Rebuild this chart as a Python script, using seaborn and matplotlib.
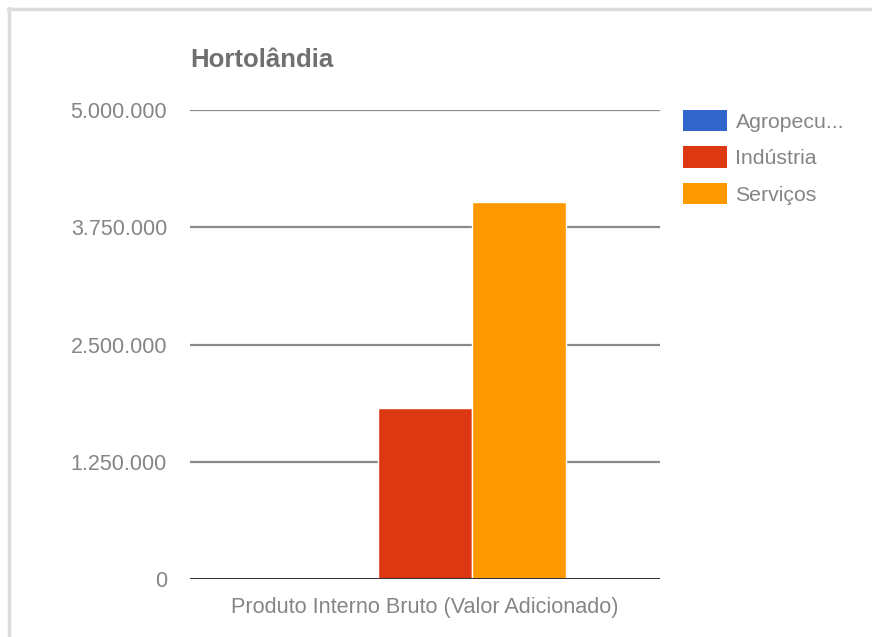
import matplotlib
matplotlib.use("Agg")
import matplotlib.pyplot as plt
from matplotlib.lines import Line2D
import seaborn as sns
import pandas as pd

# ---- data ----
title = "Hortolândia"
group_label = "Produto Interno Bruto (Valor Adicionado)"
sectors = ["Agropecuária", "Indústria", "Serviços"]
legend_labels = ["Agropecu...", "Indústria", "Serviços"]
values = [3000, 1822000, 4023000]
colors = ["#3366CC", "#DC3912", "#FF9900"]
y_ticks = [0, 1250000, 2500000, 3750000, 5000000]
y_tick_labels = ["0", "1.250.000", "2.500.000", "3.750.000", "5.000.000"]

df = pd.DataFrame({"grupo": [group_label] * len(sectors),
                   "setor": sectors,
                   "valor": values})

sns.set_theme(style="white")
plt.rcParams["font.family"] = ["Liberation Sans", "DejaVu Sans"]

fig = plt.figure(figsize=(8.72, 6.37), dpi=100)
ax = fig.add_axes([190 / 872, 1 - 579.3 / 637, 470 / 872, (579.3 - 110) / 637])

sns.barplot(data=df, x="grupo", y="valor", hue="setor", hue_order=sectors,
            palette=colors, width=0.6, ax=ax, saturation=1,
            edgecolor="white", linewidth=1.0, legend=False)

ax.set_ylim(0, 5000000)
ax.set_xlim(-0.5, 0.5)
ax.set_yticks(y_ticks)
ax.set_yticklabels(y_tick_labels)
for y in y_ticks[1:]:
    ax.axhline(y, color="#8a8a8a", linewidth=1.6, zorder=0)
ax.axhline(0, color="#333333", linewidth=2.2, zorder=5)
ax.tick_params(axis="y", length=0, pad=16.5, labelsize=15.5, labelcolor="#858585")
ax.tick_params(axis="x", length=0, pad=13, labelsize=15.6, labelcolor="#858585")
ax.set_xlabel("")
ax.set_ylabel("")
for s in ax.spines.values():
    s.set_visible(False)
ax.grid(False)

fig.text(190 / 872, 1 - 60 / 637, title, fontsize=18.5, fontweight="bold",
         color="#707070", ha="left", va="center")

# legend
handles = [plt.Rectangle((0, 0), 1, 1, facecolor=c, edgecolor="none") for c in colors]
leg = fig.legend(handles, legend_labels, loc="upper left",
                 bbox_to_anchor=(683 / 872, 1 - 110 / 637), frameon=False,
                 borderaxespad=0, borderpad=0,
                 fontsize=15.3, handlelength=2.05, handleheight=1.17,
                 handletextpad=0.42, labelspacing=0.68)
for t in leg.get_texts():
    t.set_color("#858585")

# frame border
fig.add_artist(Line2D([8 / 872, 1.0], [1 - 8.5 / 637, 1 - 8.5 / 637],
                      color="#dcdcdc", linewidth=2.5, transform=fig.transFigure))
fig.add_artist(Line2D([8.5 / 872, 8.5 / 872], [0, 1 - 8 / 637],
                      color="#dcdcdc", linewidth=2.5, transform=fig.transFigure))

fig.savefig("out.png", dpi=100, facecolor="white")
